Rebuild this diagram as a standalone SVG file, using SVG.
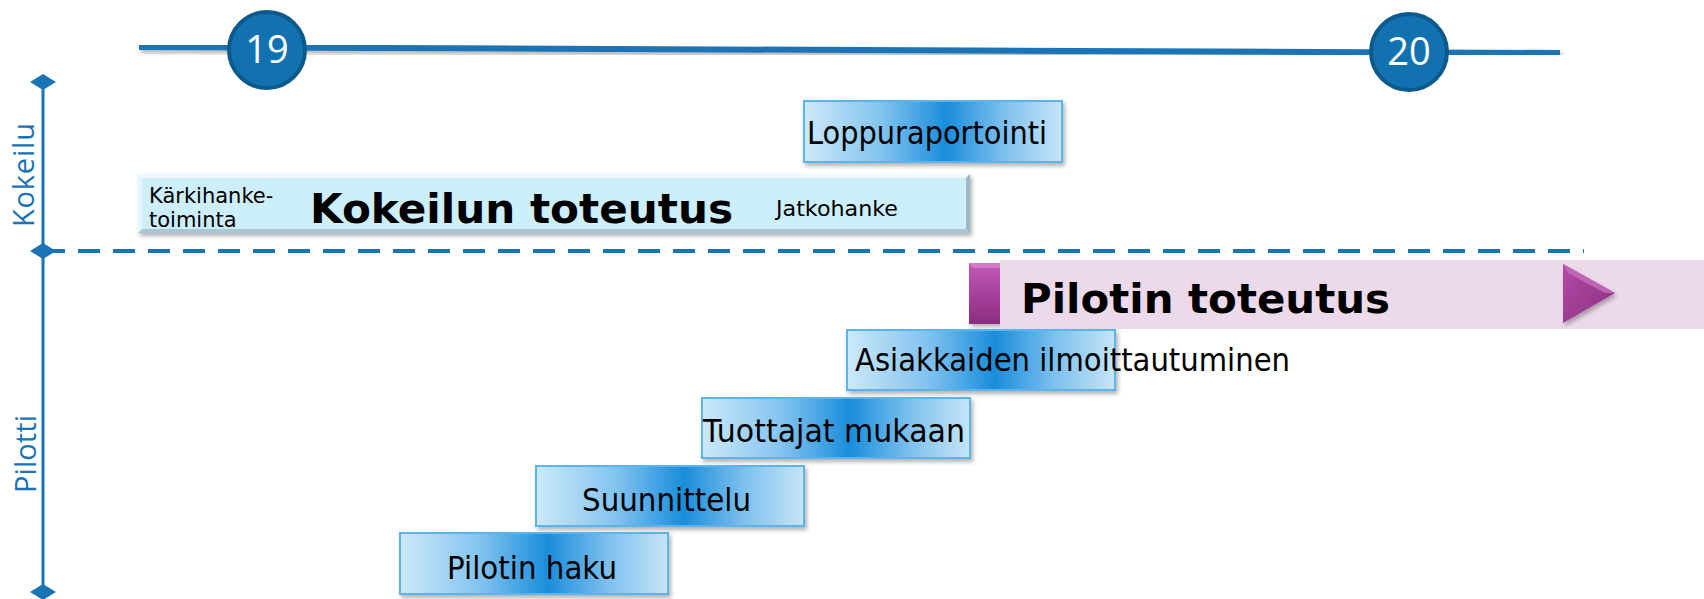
<svg xmlns="http://www.w3.org/2000/svg" width="1704" height="599" viewBox="0 0 1704 599">
<style>
.axis{stroke:#1a73b5;fill:none}
.dia{fill:#1a73b5}
.lbl{font-family:"Open Sans","DejaVu Sans",sans-serif;fill:#1a73b5;font-size:29px}
.yr{font-family:"Open Sans","DejaVu Sans",sans-serif;fill:#ffffff;font-size:38px;text-anchor:middle}
.yc{fill:#1272b0;stroke:#0c5a8c;stroke-width:4}
.box{fill:url(#bg);stroke:#5bb4ec;stroke-width:2}
.bt{font-family:"DejaVu Sans","Verdana",sans-serif;font-size:32px;fill:#000}
.bold{font-family:"DejaVu Sans","Verdana",sans-serif;font-weight:bold;fill:#000}
.small{font-family:"DejaVu Sans","Verdana",sans-serif;font-size:21px;fill:#000}
</style>
<defs>
<linearGradient id="bg" x1="0" y1="0" x2="1" y2="0">
<stop offset="0" stop-color="#cde9f9"/>
<stop offset="0.3" stop-color="#82c3ef"/>
<stop offset="0.55" stop-color="#1a8ddb"/>
<stop offset="0.78" stop-color="#7fc1ee"/>
<stop offset="1" stop-color="#c6e5f8"/>
</linearGradient>
<linearGradient id="mag" x1="0" y1="0" x2="0" y2="1">
<stop offset="0" stop-color="#c25ab8"/>
<stop offset="1" stop-color="#8b2c80"/>
</linearGradient>
<linearGradient id="tri" x1="0" y1="0" x2="1" y2="1">
<stop offset="0" stop-color="#b34aa6"/>
<stop offset="1" stop-color="#8a2f80"/>
</linearGradient>
<filter id="sh" x="-5%" y="-20%" width="110%" height="150%">
<feDropShadow dx="2" dy="3" stdDeviation="2" flood-color="#000" flood-opacity="0.3"/>
</filter>
</defs>

<g id="timeline">
<line class="axis" x1="139" y1="47" x2="1560" y2="53" stroke-width="6" filter="url(#sh)"/>
</g>
<g id="year-19">
<circle class="yc" cx="267" cy="50" r="38"/>
<text class="yr" x="267" y="63">19</text>
</g>
<g id="year-20">
<circle class="yc" cx="1409" cy="52" r="38"/>
<text class="yr" x="1409" y="65">20</text>
</g>

<g id="connectors">
<line class="axis" x1="43" y1="82" x2="43" y2="592" stroke-width="3"/>
<line class="axis" x1="43" y1="251" x2="1584" y2="251" stroke-width="4" stroke-dasharray="22 13"/>
<polygon class="dia" points="30,82 43,74 56,82 43,90"/>
<polygon class="dia" points="30,251 43,243 56,251 43,259"/>
<polygon class="dia" points="30,592 43,584 56,592 43,600"/>
</g>

<g id="label-kokeilu">
<text class="lbl" x="0" y="0" text-anchor="middle" transform="translate(34 175) rotate(-90)" textLength="104">Kokeilu</text>
</g>
<g id="label-pilotti">
<text class="lbl" x="0" y="0" text-anchor="middle" transform="translate(36 454) rotate(-90)" textLength="78">Pilotti</text>
</g>

<g id="kokeilun-toteutus">
<rect x="138" y="174" width="832" height="59" fill="#cdeffc" filter="url(#sh)"/>
<polygon points="138,174 970,174 966,178 142,178" fill="#eefaff"/>
<polygon points="138,174 142,178 142,229 138,233" fill="#e2f6fe"/>
<polygon points="970,174 970,233 966,229 966,178" fill="#9bb9c6"/>
<polygon points="138,233 970,233 966,229 142,229" fill="#a9c7d3"/>
<text class="small" x="149" y="203">Kärkihanke-</text>
<text class="small" x="149" y="227">toiminta</text>
<text class="bold" x="310" y="223" font-size="40" textLength="423" lengthAdjust="spacingAndGlyphs">Kokeilun toteutus</text>
<text class="small" x="776" y="216" font-size="22" textLength="122" lengthAdjust="spacingAndGlyphs">Jatkohanke</text>
</g>

<g id="loppuraportointi">
<rect class="box" x="804" y="101" width="258" height="61" filter="url(#sh)"/>
<text class="bt" x="807" y="144" textLength="240" lengthAdjust="spacingAndGlyphs">Loppuraportointi</text>
</g>

<g id="pilotin-toteutus">
<rect x="969" y="263" width="34" height="61" fill="url(#mag)" filter="url(#sh)"/>
<polygon points="969,263 1003,263 999,268 973,268" fill="#d47acb"/>
<rect x="1000" y="260" width="704" height="69" fill="#ecdaea"/>
<polygon points="1563,264 1615,293 1563,323" fill="url(#tri)" filter="url(#sh)"/>
<polygon points="1563,264 1615,293 1605,293 1568,273" fill="#c064b5"/>
<text class="bold" x="1021" y="313" font-size="40" textLength="369" lengthAdjust="spacingAndGlyphs">Pilotin toteutus</text>
</g>

<g id="asiakkaiden">
<rect class="box" x="847" y="330" width="268" height="60" filter="url(#sh)"/>
<text class="bt" x="855" y="371" textLength="435" lengthAdjust="spacingAndGlyphs">Asiakkaiden ilmoittautuminen</text>
</g>

<g id="tuottajat">
<rect class="box" x="702" y="398" width="268" height="60" filter="url(#sh)"/>
<text class="bt" x="703" y="442" textLength="262" lengthAdjust="spacingAndGlyphs">Tuottajat mukaan</text>
</g>

<g id="suunnittelu">
<rect class="box" x="536" y="466" width="268" height="60" filter="url(#sh)"/>
<text class="bt" x="582" y="511" textLength="169" lengthAdjust="spacingAndGlyphs">Suunnittelu</text>
</g>

<g id="pilotin-haku">
<rect class="box" x="400" y="533" width="268" height="61" filter="url(#sh)"/>
<text class="bt" x="447" y="579" textLength="170" lengthAdjust="spacingAndGlyphs">Pilotin haku</text>
</g>
</svg>
